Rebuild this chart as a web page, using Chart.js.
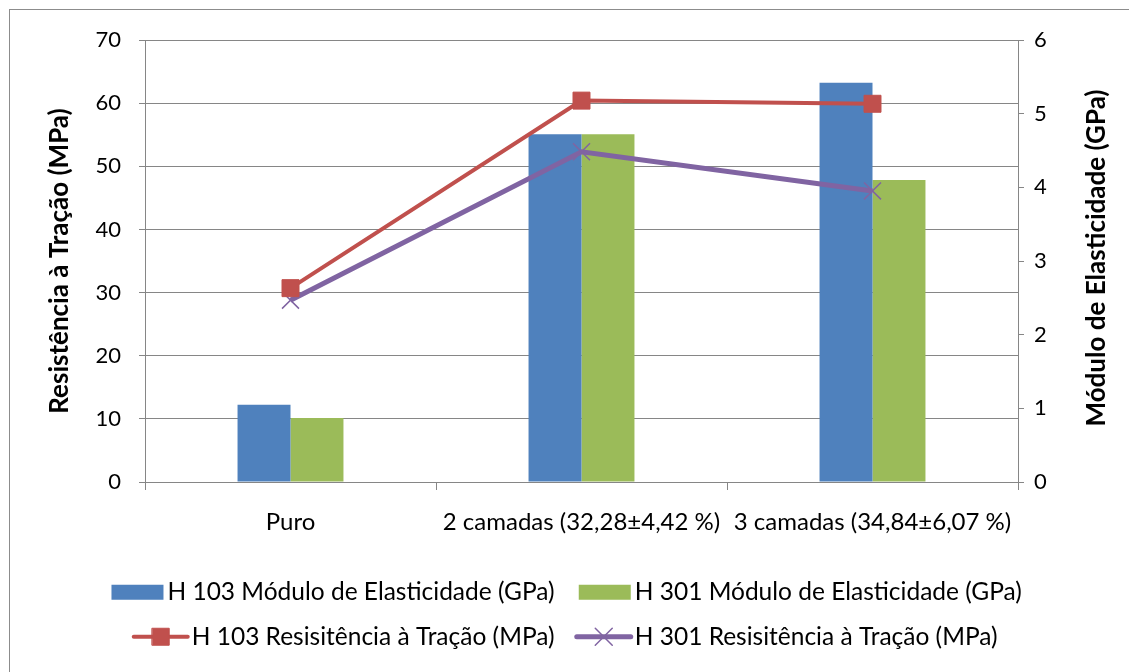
<!DOCTYPE html>
<html>
<head>
<meta charset="utf-8">
<script src="https://cdn.jsdelivr.net/npm/chart.js@4.4.0/dist/chart.umd.min.js"></script>
<style>
  html, body { margin: 0; padding: 0; background: #fff; overflow: hidden; }
  #frame { position: absolute; left: 9px; top: 9px; width: 1140px; height: 700px; border: 1px solid #8c8c8c; }
  #wrap { position: absolute; left: 0; top: 0; width: 1129px; height: 672px; }
</style>
</head>
<body>
<div id="frame"></div>
<div id="wrap"><canvas id="chart"></canvas></div>
<script>
// ── DATA ──
const categories = ['Puro', '2 camadas (32,28±4,42 %)', '3 camadas (34,84±6,07 %)'];
const h103Modulo = [1.05, 4.72, 5.42];   // GPa, right axis
const h301Modulo = [0.87, 4.72, 4.10];   // GPa, right axis
const h103Resist = [30.7, 60.4, 59.9];   // MPa, left axis
const h301Resist = [28.8, 52.3, 46.1];   // MPa, left axis
const rightTitle = 'Módulo de Elasticidade (GPa)';

const FONT = 'Lato, "Open Sans", sans-serif';
const GRID = '#868686';
const BOX_W = 48;
const SYM_W = 54;
const LEGEND_SIZE = 24.5;

// ── LEGEND SYMBOLS (bar box / line + marker) + right title read bottom-up ──
const extras = {
  id: 'extras',
  afterDraw(chart) {
    const ctx = chart.ctx;
    const lg = chart.legend;
    if (lg && lg.legendHitBoxes) {
      lg.legendItems.forEach((item, i) => {
        const hb = lg.legendHitBoxes[i];
        const ds = chart.data.datasets[item.datasetIndex];
        const cy = hb.top + hb.height / 2;
        const x1 = hb.left + BOX_W + LEGEND_SIZE / 2 - 4;  // just before the text
        ctx.save();
        if (ds.type === 'bar') {
          ctx.fillStyle = ds.backgroundColor;
          ctx.fillRect(x1 - SYM_W + 2, cy - 7.5, SYM_W - 2, 15);
        } else {
          ctx.strokeStyle = ds.borderColor;
          ctx.lineWidth = ds.borderWidth;
          ctx.lineCap = 'round';
          ctx.beginPath();
          ctx.moveTo(x1 - SYM_W, cy);
          ctx.lineTo(x1, cy);
          ctx.stroke();
          ctx.fillStyle = ds.pointBackgroundColor;
          ctx.strokeStyle = ds.pointBorderColor;
          ctx.lineWidth = ds.pointBorderWidth;
          Chart.helpers.drawPoint(ctx, {
            pointStyle: ds.pointStyle, radius: ds.pointRadius, borderWidth: ds.pointBorderWidth, rotation: 0
          }, x1 - SYM_W / 2, cy);
        }
        ctx.restore();
      });
    }
    const ca = chart.chartArea;
    ctx.save();
    ctx.translate(1097, (ca.top + ca.bottom) / 2 - 3);
    ctx.rotate(-Math.PI / 2);
    ctx.font = 'bold 26px ' + FONT;
    ctx.fillStyle = '#000';
    ctx.textAlign = 'center';
    ctx.textBaseline = 'middle';
    ctx.fillText(rightTitle, 0, 0);
    ctx.restore();
  }
};

new Chart(document.getElementById('chart'), {
  data: {
    labels: categories,
    datasets: [
      { type: 'bar', label: 'H 103 Módulo de Elasticidade (GPa)', data: h103Modulo,
        backgroundColor: '#4F81BD', yAxisID: 'y2', order: 2 },
      { type: 'bar', label: 'H 301 Módulo de Elasticidade (GPa)', data: h301Modulo,
        backgroundColor: '#9BBB59', yAxisID: 'y2', order: 2 },
      { type: 'line', label: 'H 103 Resisitência à Tração (MPa)', data: h103Resist,
        borderColor: '#C0504D', borderWidth: 4, pointStyle: 'rect', pointRadius: 12,
        pointBackgroundColor: '#C0504D', pointBorderColor: '#C0504D', pointBorderWidth: 1,
        yAxisID: 'y', order: 1, tension: 0 },
      { type: 'line', label: 'H 301 Resisitência à Tração (MPa)', data: h301Resist,
        borderColor: '#8064A2', borderWidth: 5, pointStyle: 'crossRot', pointRadius: 12,
        pointBackgroundColor: '#8064A2', pointBorderColor: '#8064A2', pointBorderWidth: 1.5,
        yAxisID: 'y', order: 1, tension: 0 }
    ]
  },
  options: {
    animation: false,
    responsive: true,
    maintainAspectRatio: false,
    layout: { padding: { top: 40, right: 0, bottom: 13, left: 0 } },
    datasets: { bar: { barPercentage: 1, categoryPercentage: 0.364 } },
    plugins: {
      tooltip: { enabled: false },
      legend: {
        position: 'bottom',
        labels: {
          color: '#000',
          font: { family: FONT, size: LEGEND_SIZE },
          boxWidth: BOX_W,
          boxHeight: 14,
          padding: 20,
          sort: (a, b) => a.datasetIndex - b.datasetIndex,
          generateLabels(chart) {
            return Chart.defaults.plugins.legend.labels.generateLabels(chart).map(l => ({
              ...l, fillStyle: 'rgba(0,0,0,0)', strokeStyle: 'rgba(0,0,0,0)', lineWidth: 0
            }));
          }
        }
      }
    },
    scales: {
      x: {
        offset: true,
        grid: { offset: true, drawOnChartArea: false, drawTicks: true, tickLength: 8, color: GRID },
        border: { color: GRID },
        ticks: { color: '#000', font: { family: FONT, size: 24 }, padding: 18, maxRotation: 0 },
        afterFit(s) { s.height = 78; }
      },
      y: {
        position: 'left',
        min: 0, max: 70,
        grid: { color: GRID, tickLength: 6 },
        border: { color: GRID },
        ticks: { stepSize: 10, color: '#000', font: { family: FONT, size: 22 }, padding: 18 },
        title: { display: true, text: 'Resistência à Tração (MPa)', color: '#000',
                 font: { family: FONT, size: 26, weight: 'bold' }, padding: { top: 44, bottom: 0 } },
        afterFit(s) { s.width = 145; }
      },
      y2: {
        position: 'right',
        min: 0, max: 6,
        grid: { drawOnChartArea: false, color: GRID, tickLength: 6 },
        border: { color: GRID },
        ticks: { stepSize: 1, color: '#000', font: { family: FONT, size: 22 }, padding: 10 },
        afterFit(s) { s.width = 111; }
      }
    }
  },
  plugins: [extras]
});
</script>
</body>
</html>
